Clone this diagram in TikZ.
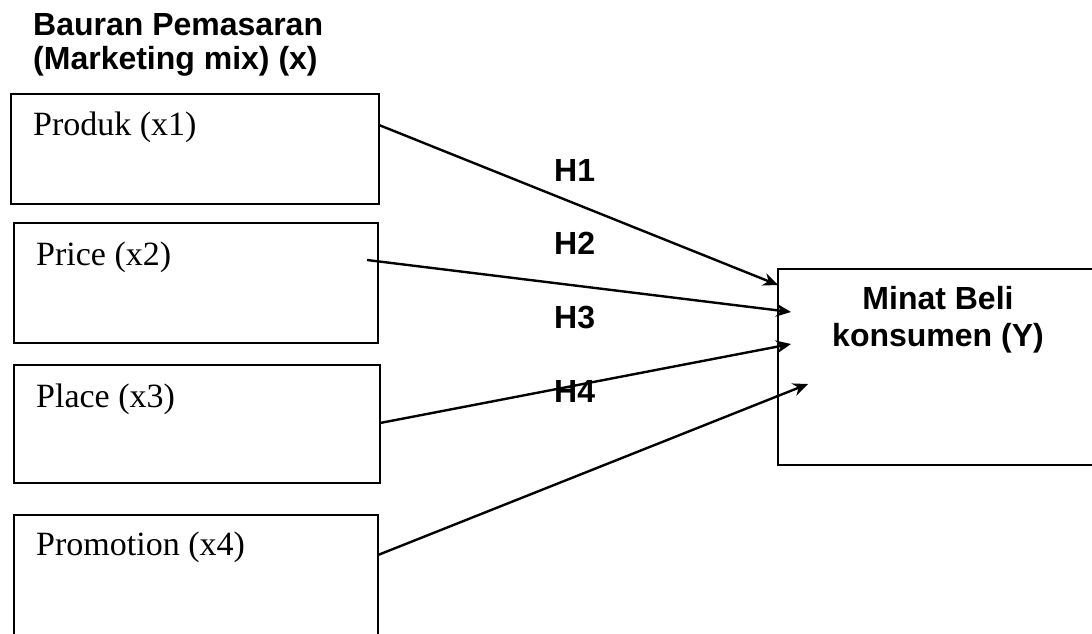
\documentclass[tikz,border=0pt]{standalone}
\usepackage{fontspec}
\setmainfont{Liberation Serif}
\setsansfont{Liberation Sans}
\usetikzlibrary{positioning,arrows.meta}

\begin{document}
\begin{tikzpicture}[x=1pt,y=-1pt,
  box/.style={draw,line width=2.2pt,inner sep=0pt,outer sep=0pt,anchor=north west},
  varlbl/.style={inner sep=0pt,anchor=base west,font=\fontsize{34}{40}\selectfont},
  sanslbl/.style={inner sep=0pt,font=\sffamily\bfseries\fontsize{32}{#1}\selectfont},
  sanslbl/.default=34,
  arr/.style={line width=2.4pt,-{Stealth[length=15pt,width=13pt]}}]
\clip (0,0) rectangle (1092,633);

% Title
\node[sanslbl,anchor=north west,align=left] (title) at (33,13) {Bauran Pemasaran\\(Marketing mix) (x)};

% Boxes
\node[box,minimum width=368pt,minimum height=110pt] (produk) at (11,94) {};
\node[box,minimum width=364pt,minimum height=120pt] (price) at (14,223) {};
\node[box,minimum width=366pt,minimum height=118pt] (place) at (14,365) {};
\node[box,minimum width=364pt,minimum height=140pt] (promo) at (14,515) {};
\node[box,minimum width=320pt,minimum height=196pt] (minat) at (778,269) {};

% Box texts
\node[varlbl] (produktxt) at ([xshift=22pt,yshift=-41pt]produk.north west) {Produk (x1)};
\node[varlbl] (pricetxt) at ([xshift=22pt,yshift=-42pt]price.north west) {Price (x2)};
\node[varlbl] (placetxt) at ([xshift=22pt,yshift=-42pt]place.north west) {Place (x3)};
\node[varlbl] (promotxt) at ([xshift=22pt,yshift=-40pt]promo.north west) {Promotion (x4)};
\node[sanslbl=37,anchor=north,align=center] (minattxt) at ([yshift=-17pt]minat.north) {Minat Beli\\konsumen (Y)};

% Hypotheses
\foreach \i/\y in {1/181,2/254,3/328,4/402}
  \node[sanslbl,anchor=base west] (h\i) at (554,\y) {H\i};

% Arrows
\draw[arr] ([yshift=-31pt]produk.north east) -- ([yshift=-16pt]minat.north west);
\draw[arr] ([xshift=-11pt,yshift=-37pt]price.north east) -- ([xshift=13pt,yshift=-43pt]minat.north west);
\draw[arr] ([yshift=-58pt]place.north east) -- ([xshift=13pt,yshift=-75pt]minat.north west);
\draw[arr] ([yshift=-40pt]promo.north east) -- ([xshift=30pt,yshift=-115pt]minat.north west);
\end{tikzpicture}
\end{document}
